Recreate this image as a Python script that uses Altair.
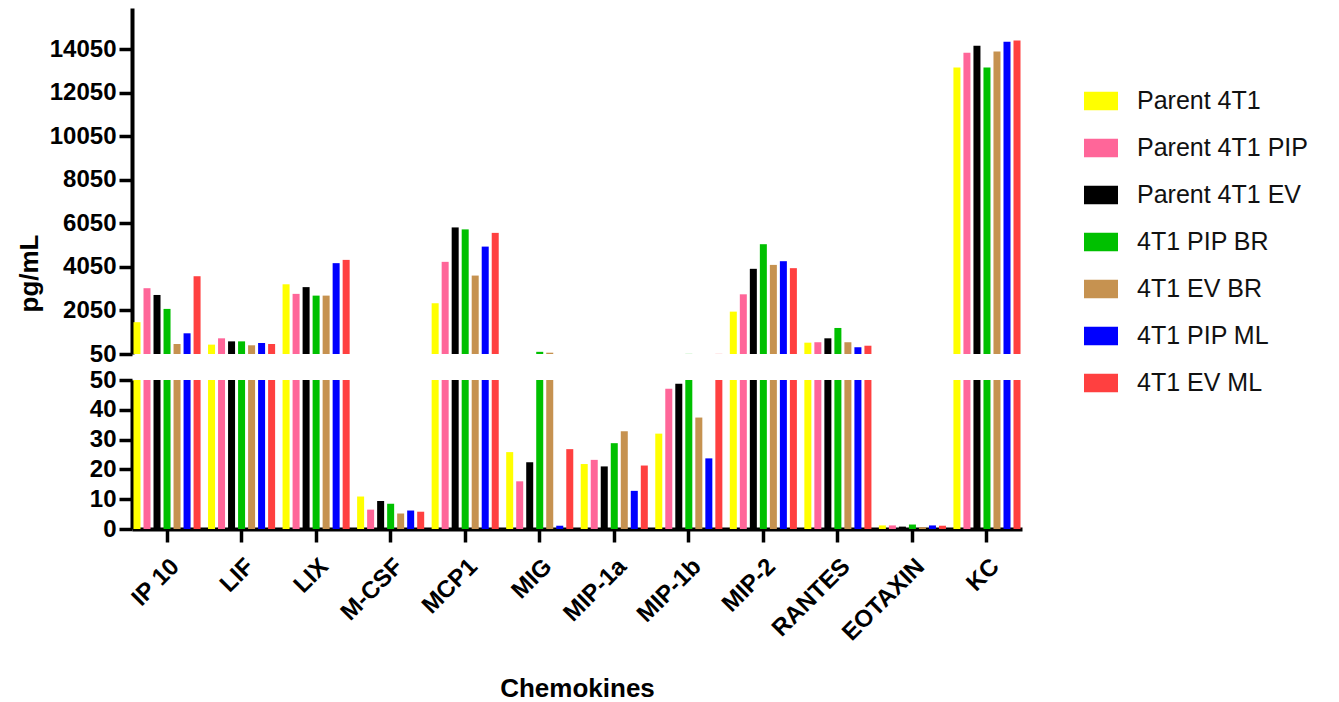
import altair as alt
import pandas as pd

categories = ["IP 10", "LIF", "LIX", "M-CSF", "MCP1", "MIG", "MIP-1a", "MIP-1b",
              "MIP-2", "RANTES", "EOTAXIN", "KC"]
series = ["Parent 4T1", "Parent 4T1 PIP", "Parent 4T1 EV", "4T1 PIP BR",
          "4T1 EV BR", "4T1 PIP ML", "4T1 EV ML"]
colors = ["#FFFF00", "#FF6699", "#000000", "#00C000", "#C69250", "#0000FF", "#FF4040"]

parent_4t1 = [1510, 480, 3250, 10.9, 2380, 25.8, 21.8, 32.0, 1995, 570, 1.2, 13200]
parent_4t1_pip = [3070, 770, 2810, 6.5, 4280, 16.0, 23.2, 47.1, 2790, 590, 1.2, 13875]
parent_4t1_ev = [2760, 630, 3120, 9.4, 5860, 22.4, 21.0, 48.7, 3960, 770, 0.8, 14200]
pip_br = [2120, 630, 2730, 8.5, 5770, 150, 28.8, 55, 5090, 1245, 1.5, 13200]
ev_br = [510, 450, 2730, 5.2, 3650, 110, 32.8, 37.4, 4140, 590, 0.6, 13935]
pip_ml = [1000, 556, 4220, 6.2, 4980, 1.1, 12.8, 23.7, 4310, 360, 1.2, 14380]
ev_ml = [3620, 510, 4370, 5.8, 5610, 26.8, 21.3, 55, 3990, 430, 1.1, 14440]

upper_ticks = [50, 2050, 4050, 6050, 8050, 10050, 12050, 14050]
lower_ticks = [0, 10, 20, 30, 40, 50]

all_series = [parent_4t1, parent_4t1_pip, parent_4t1_ev, pip_br, ev_br, pip_ml, ev_ml]
rows = []
for s, vals in zip(series, all_series):
    for c, v in zip(categories, vals):
        rows.append({"Chemokine": c, "Group": s, "value": v})
df = pd.DataFrame(rows)

FONT = "Liberation Sans"

xscale = alt.Scale(domain=categories, paddingInner=0.1, paddingOuter=0.02)
off_scale = alt.Scale(domain=series, paddingInner=0.3, paddingOuter=0)
color = alt.Color(
    "Group:N",
    scale=alt.Scale(domain=series, range=colors),
    legend=alt.Legend(
        title=None, orient="none", legendX=952, legendY=76,
        symbolType="M-1,-0.55H1V0.55H-1Z", symbolSize=1156, symbolStrokeWidth=0,
        labelFont=FONT, labelFontSize=25, labelColor="#111111", labelLimit=400,
        rowPadding=17, labelOffset=19,
    ),
)

axis_common = dict(
    labelFont=FONT, labelFontSize=24, labelFontWeight="bold", labelColor="black",
    domainColor="black", domainWidth=4, tickColor="black", tickWidth=3.5, tickSize=13,
    grid=False,
)

view_bg = alt.ViewBackground(stroke="transparent", strokeWidth=0)

upper = alt.Chart(df).mark_bar().encode(
    x=alt.X("Chemokine:N", scale=xscale, sort=categories, axis=None),
    xOffset=alt.XOffset("Group:N", scale=off_scale, sort=series),
    y=alt.Y("value:Q", scale=alt.Scale(domain=[50, 15932], clamp=True, nice=False),
            axis=alt.Axis(values=upper_ticks, format="d", title="pg/mL", titleFont=FONT,
                          titleFontSize=26, titleFontWeight="bold", titleColor="black",
                          titleX=-103, titleY=265, titleBaseline="middle",
                          labelPadding=3, **axis_common)),
    color=color,
).properties(width=890, height=346, view=view_bg)

lower = alt.Chart(df).mark_bar().encode(
    x=alt.X("Chemokine:N", scale=xscale, sort=categories,
            axis=alt.Axis(title="Chemokines", titleFont=FONT, titleFontSize=26,
                          titleFontWeight="bold", titleColor="black", titlePadding=30,
                          labelAngle=-45, labelAlign="right", labelBaseline="top",
                          labelPadding=12, **axis_common)),
    xOffset=alt.XOffset("Group:N", scale=off_scale, sort=series),
    y=alt.Y("value:Q", scale=alt.Scale(domain=[0, 50], clamp=True, nice=False),
            axis=alt.Axis(values=lower_ticks, format="d", title=None, labelPadding=3,
                          **axis_common)),
    color=color,
).properties(width=890, height=149, view=view_bg)

chart = alt.vconcat(upper, lower, spacing=26, bounds="flush").configure_view(
    strokeWidth=0, stroke="transparent"
).configure(font=FONT).properties(
    padding={"left": 8, "top": 0, "right": 5, "bottom": 0}
)

chart.save("out.html", embed_options={"renderer": "svg", "actions": False})
